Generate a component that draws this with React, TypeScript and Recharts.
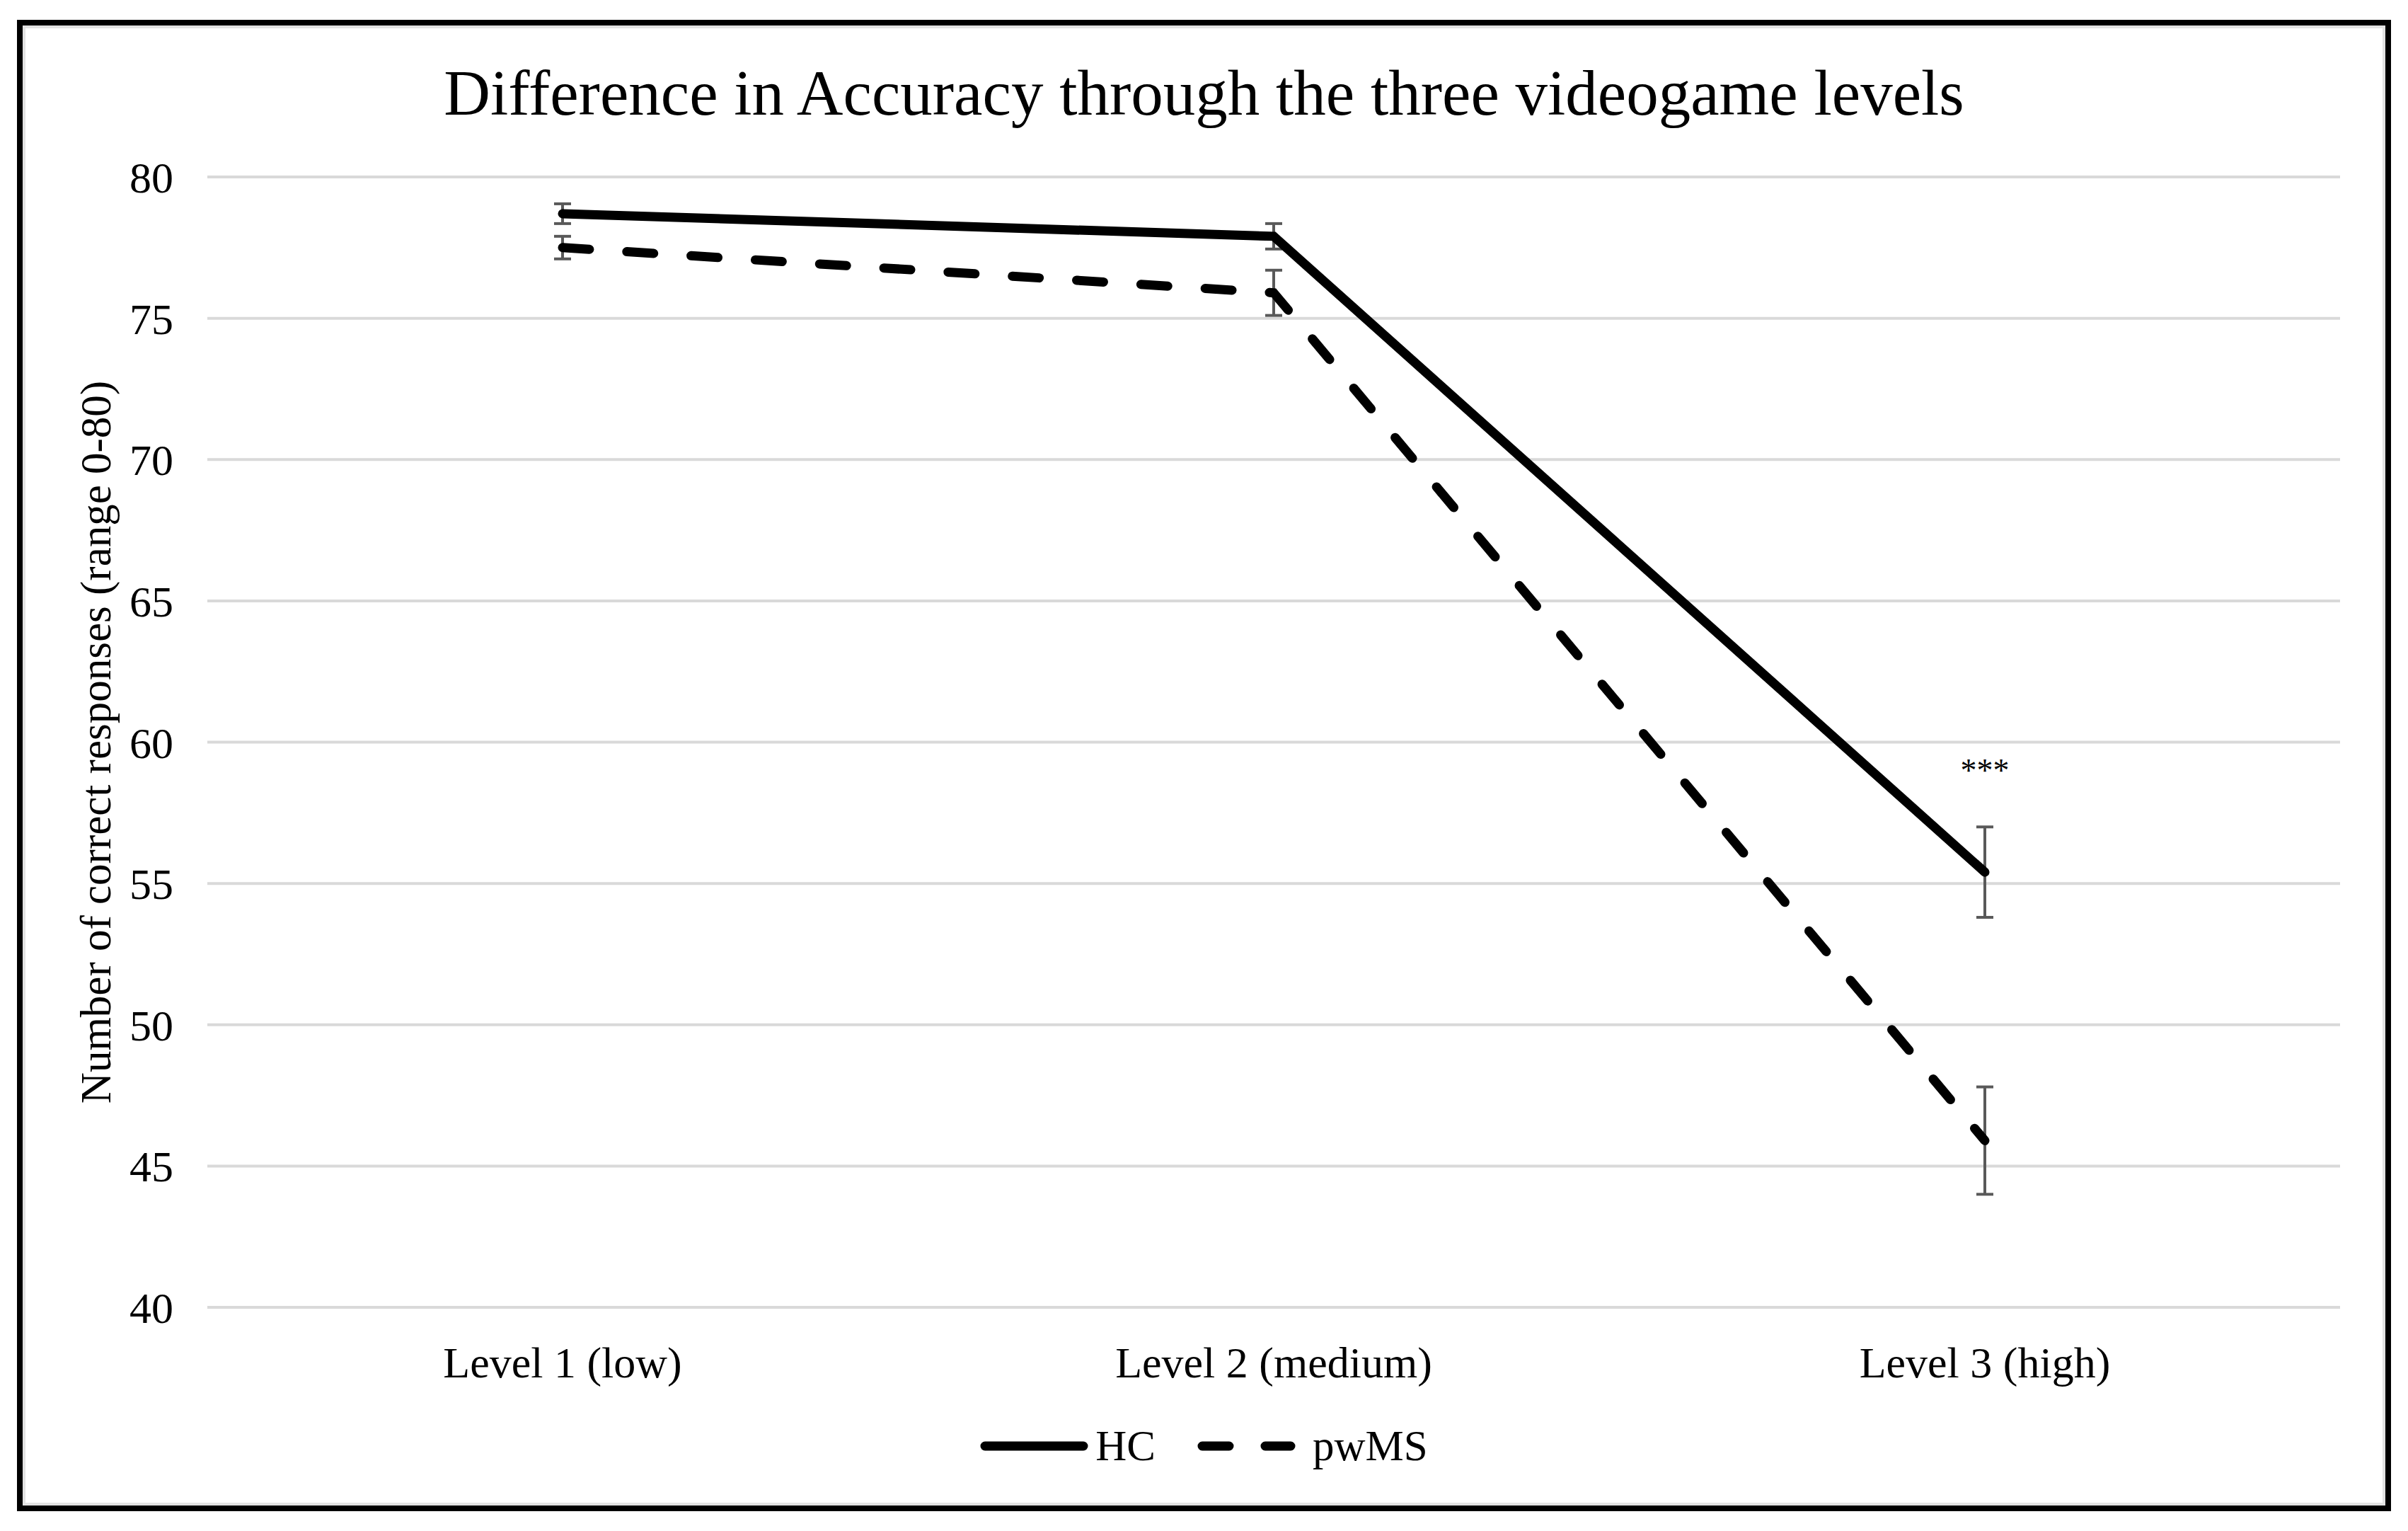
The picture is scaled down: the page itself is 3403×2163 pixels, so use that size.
import {
  LineChart,
  Line,
  XAxis,
  YAxis,
  CartesianGrid,
  Legend,
  ErrorBar,
  LabelList,
} from "recharts";

const levels = ["Level 1 (low)", "Level 2 (medium)", "Level 3 (high)"];
const hcValues = [78.7, 77.9, 55.4];
const hcErrors = [0.35, 0.45, 1.6];
const pwmsValues = [77.5, 75.9, 45.9];
const pwmsErrors = [0.4, 0.8, 1.9];
const significance = ["", "", "***"];
const yTicks = [40, 45, 50, 55, 60, 65, 70, 75, 80];

const W = 3403;
const H = 2163;
const FONT = '"Liberation Serif", "Times New Roman", serif';

const data = levels.map((level, i) => ({
  level,
  hc: hcValues[i],
  hcErr: hcErrors[i],
  pwms: pwmsValues[i],
  pwmsErr: pwmsErrors[i],
  sig: significance[i],
}));

const YLabel = (props: any) => {
  const vb = props.viewBox || {};
  const cy = vb.y + vb.height / 2;
  return (
    <text
      x={135}
      y={cy}
      transform={`rotate(-90 135 ${cy})`}
      textAnchor="middle"
      dominantBaseline="central"
      fontFamily={FONT}
      fontSize={61}
      fill="#000"
    >
      Number of correct responses (range 0-80)
    </text>
  );
};

const SigLabel = (props: any) => {
  const { x, y, value } = props;
  if (!value) return null;
  return (
    <text x={x} y={y - 128} textAnchor="middle" fontFamily={FONT} fontSize={46} fill="#000">
      {value}
    </text>
  );
};

const renderLegend = () => (
  <div
    style={{
      display: "flex",
      justifyContent: "center",
      alignItems: "center",
      height: 100,
      fontFamily: FONT,
      fontSize: 61,
      color: "#000",
    }}
  >
    <svg width={153} height={20}>
      <line x1={7} y1={10} x2={146} y2={10} stroke="#000" strokeWidth={13} strokeLinecap="round" />
    </svg>
    <span style={{ marginLeft: 10 }}>HC</span>
    <svg width={139} height={20} style={{ marginLeft: 59 }}>
      <line
        x1={7}
        y1={10}
        x2={132}
        y2={10}
        stroke="#000"
        strokeWidth={13}
        strokeLinecap="round"
        strokeDasharray="38 51"
      />
    </svg>
    <span style={{ marginLeft: 24 }}>pwMS</span>
  </div>
);

export default function App() {
  return (
    <div
      style={{
        position: "absolute",
        left: 0,
        top: 0,
        width: W,
        height: H,
        background: "#fff",
        overflow: "hidden",
      }}
    >
      <div
        style={{
          position: "absolute",
          left: 24,
          top: 28,
          width: 3355,
          height: 2107,
          border: "8px solid #000",
          boxShadow: "inset 0 0 0 4px #e2e2e2",
          boxSizing: "border-box",
        }}
      />
      <svg
        width={W}
        height={200}
        style={{ position: "absolute", left: 0, top: 0 }}
      >
        <text
          x={W / 2}
          y={162}
          textAnchor="middle"
          fontFamily={FONT}
          fontSize={91}
          fill="#000"
        >
          Difference in Accuracy through the three videogame levels
        </text>
      </svg>
      <div style={{ position: "absolute", left: 0, top: 0 }}>
        <LineChart
          width={W}
          height={H}
          data={data}
          margin={{ top: 250, right: 96, left: 143, bottom: 70 }}
        >
          <CartesianGrid vertical={false} stroke="#d9d9d9" strokeWidth={4} />
          <XAxis
            dataKey="level"
            axisLine={false}
            tickLine={false}
            tickSize={0}
            tickMargin={55}
            height={146}
            padding={{ left: 502, right: 502 }}
            tick={{ fontFamily: FONT, fontSize: 62, fill: "#000" }}
          />
          <YAxis
            domain={[40, 80]}
            ticks={yTicks}
            axisLine={false}
            tickLine={false}
            tickSize={0}
            tickMargin={48}
            width={150}
            tick={{ fontFamily: FONT, fontSize: 62, fill: "#000" }}
            label={{ content: YLabel }}
          />
          <Legend
            verticalAlign="bottom"
            height={100}
            content={renderLegend}
            wrapperStyle={{ left: 0, width: W }}
          />
          <Line
            dataKey="hc"
            name="HC"
            stroke="#000"
            strokeWidth={13}
            strokeLinecap="round"
            dot={false}
            activeDot={false}
            isAnimationActive={false}
          >
            <ErrorBar dataKey="hcErr" width={12} strokeWidth={4} stroke="#595959" direction="y" />
            <LabelList dataKey="sig" content={SigLabel} />
          </Line>
          <Line
            dataKey="pwms"
            name="pwMS"
            stroke="#000"
            strokeWidth={13}
            strokeLinecap="round"
            strokeDasharray="38 53"
            dot={false}
            activeDot={false}
            isAnimationActive={false}
          >
            <ErrorBar dataKey="pwmsErr" width={12} strokeWidth={4} stroke="#595959" direction="y" />
          </Line>
        </LineChart>
      </div>
    </div>
  );
}
